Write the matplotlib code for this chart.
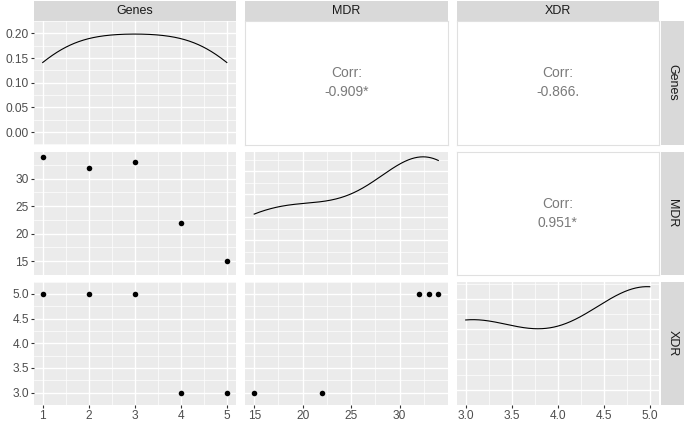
import numpy as np
import matplotlib
matplotlib.use('Agg')
import matplotlib.pyplot as plt
from matplotlib.ticker import FormatStrFormatter

plt.rcParams['font.family'] = ['Liberation Sans', 'DejaVu Sans']

# ---- data ----
var_names = ['Genes', 'MDR', 'XDR']
genes = [1, 2, 3, 4, 5]
mdr = [34, 32, 33, 22, 15]
xdr = [5, 5, 5, 3, 3]
corr_stars = {(0, 1): '*', (0, 2): '.', (1, 2): '*'}
major_ticks = {'Genes': [1, 2, 3, 4, 5], 'MDR': [15, 20, 25, 30],
               'XDR': [3.0, 3.5, 4.0, 4.5, 5.0]}
tick_fmt = {'Genes': '%d', 'MDR': '%d', 'XDR': '%.1f'}
density_ticks = {'Genes': [0.00, 0.05, 0.10, 0.15, 0.20],
                 'MDR': [0.00, 0.01, 0.02, 0.03, 0.04],
                 'XDR': [0.0, 0.1, 0.2, 0.3]}
density_fmt = '%.2f'

data = {'Genes': np.array(genes, float), 'MDR': np.array(mdr, float),
        'XDR': np.array(xdr, float)}


def kde_nrd0(x, grid):
    n = len(x)
    sd = np.std(x, ddof=1)
    iqr = np.percentile(x, 75) - np.percentile(x, 25)
    lo = min(sd, iqr / 1.34)
    bw = 0.9 * lo * n ** (-0.2)
    z = (grid[:, None] - x[None, :]) / bw
    return np.exp(-0.5 * z ** 2).sum(axis=1) / (n * bw * np.sqrt(2 * np.pi))


def minors(major):
    step = major[1] - major[0]
    m = [major[0] - step / 2]
    m += [(a + b) / 2 for a, b in zip(major[:-1], major[1:])]
    m += [major[-1] + step / 2]
    return m


def expand(lo, hi, f=0.05):
    d = hi - lo
    return lo - f * d, hi + f * d


W, H = 685, 422
fig = plt.figure(figsize=(W / 100, H / 100), dpi=100)
fig.patch.set_facecolor('white')

col_left = [33.5, 245.0, 456.5]
col_w = 202.5
row_top = [21.0, 151.5, 281.5]
row_h = 123.5


def add_ax(x, y, w, h):
    return fig.add_axes([x / W, 1 - (y + h) / H, w / W, h / H])


tick_color = '#4D4D4D'
for i, vy in enumerate(var_names):
    for j, vx in enumerate(var_names):
        ax = add_ax(col_left[j], row_top[i], col_w, row_h)
        xv = data[vx]
        yv = data[vy]
        if j > i:
            # correlation panel
            ax.set_facecolor('white')
            for s in ax.spines.values():
                s.set_color('#E0E0E0')
                s.set_linewidth(0.8)
            ax.set_xticks([])
            ax.set_yticks([])
            r = np.corrcoef(data[vy], data[vx])[0, 1]
            txt = 'Corr:\n%.3f%s' % (r, corr_stars[(i, j)])
            ax.text(0.5, 0.5, txt, ha='center', va='center',
                    transform=ax.transAxes, fontsize=10, color='#7A7A7A',
                    linespacing=1.42)
            continue

        ax.set_facecolor('#EBEBEB')
        for s in ax.spines.values():
            s.set_visible(False)
        ax.set_axisbelow(True)
        xmaj = major_ticks[vx]
        ax.set_xlim(*expand(xv.min(), xv.max()))
        ax.set_xticks(xmaj)
        ax.set_xticks(minors(xmaj), minor=True)
        ax.xaxis.set_major_formatter(FormatStrFormatter(tick_fmt[vx]))

        if i == j:
            grid = np.linspace(xv.min(), xv.max(), 512)
            dens = kde_nrd0(xv, grid)
            ax.plot(grid, dens, color='black', lw=0.8)
            ax.set_ylim(*expand(0, dens.max()))
            ymaj = density_ticks[vx]
            ax.set_yticks(ymaj)
            ax.set_yticks(minors(ymaj), minor=True)
            ax.yaxis.set_major_formatter(FormatStrFormatter(density_fmt))
        else:
            ax.scatter(xv, yv, s=16, color='black', zorder=3, linewidths=0)
            ax.set_ylim(*expand(yv.min(), yv.max()))
            ymaj = major_ticks[vy]
            ax.set_yticks(ymaj)
            ax.set_yticks(minors(ymaj), minor=True)
            ax.yaxis.set_major_formatter(FormatStrFormatter(tick_fmt[vy]))

        ax.set_xlim(*expand(xv.min(), xv.max()))
        ax.grid(which='major', color='white', lw=1.0)
        ax.grid(which='minor', color='white', lw=0.5)
        ax.tick_params(which='minor', length=0)
        ax.tick_params(which='major', length=2.4, width=0.8, color='#333333',
                       labelsize=8.6, labelcolor=tick_color, pad=1.0,
                       left=(j == 0), labelleft=(j == 0),
                       bottom=(i == 2), labelbottom=(i == 2))

# top strips
for j, name in enumerate(var_names):
    sax = add_ax(col_left[j], 0.5, col_w, 20.5)
    sax.set_facecolor('#D9D9D9')
    for s in sax.spines.values():
        s.set_visible(False)
    sax.set_xticks([])
    sax.set_yticks([])
    sax.text(0.5, 0.5, name, ha='center', va='center', transform=sax.transAxes,
             fontsize=9, color='#1A1A1A')

# right strips
for i, name in enumerate(var_names):
    sax = add_ax(661, row_top[i], 23, row_h)
    sax.set_facecolor('#D9D9D9')
    for s in sax.spines.values():
        s.set_visible(False)
    sax.set_xticks([])
    sax.set_yticks([])
    sax.text(0.5, 0.5, name, ha='center', va='center', transform=sax.transAxes,
             fontsize=9, color='#1A1A1A', rotation=-90)

fig.savefig('out.png', dpi=100, facecolor='white')
